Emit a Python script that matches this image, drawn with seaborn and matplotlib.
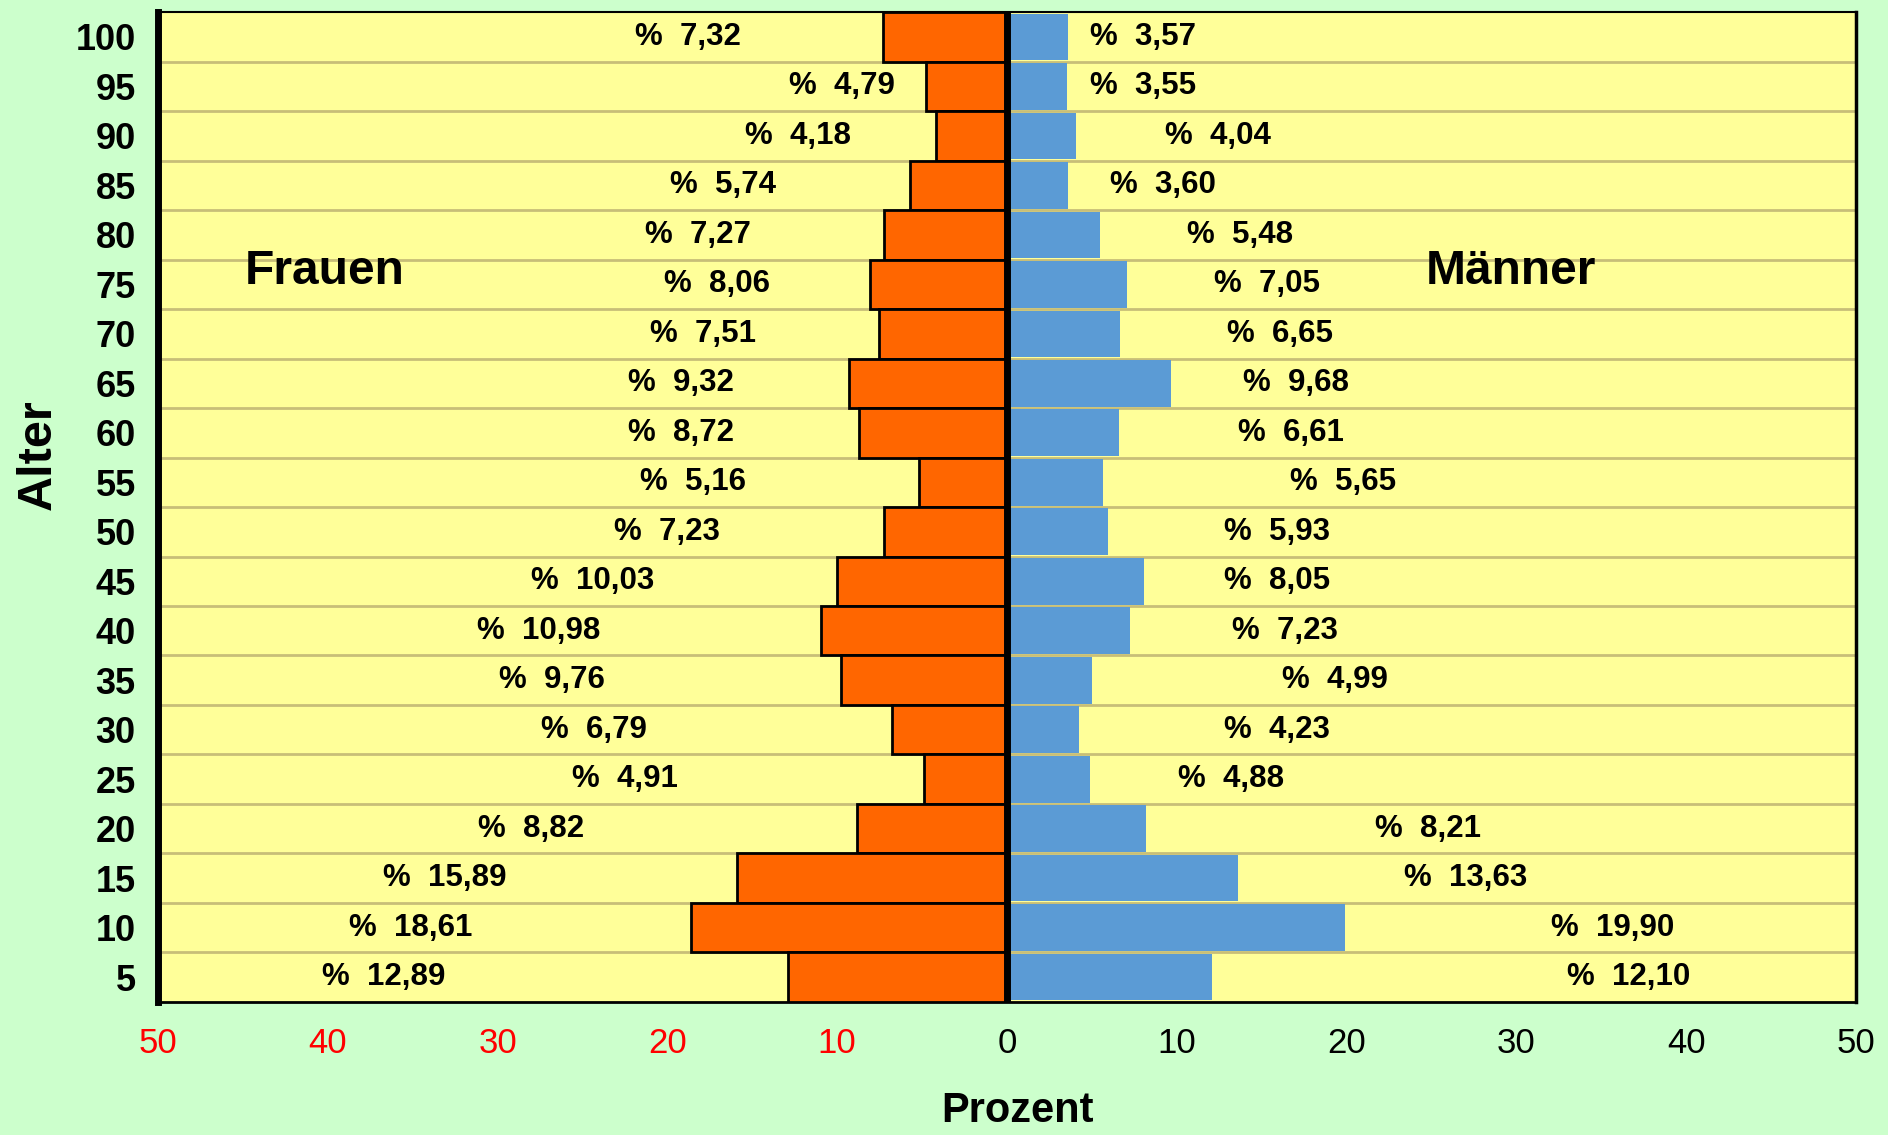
import seaborn as sns
import matplotlib.pyplot as plt
import pandas as pd
import numpy as np

# --- Daten: Altersgruppen (oben -> unten) ---
alter = ['100', '95', '90', '85', '80', '75', '70', '65', '60', '55',
         '50', '45', '40', '35', '30', '25', '20', '15', '10', '5']
frauen = [7.32, 4.79, 4.18, 5.74, 7.27, 8.06, 7.51, 9.32, 8.72, 5.16,
          7.23, 10.03, 10.98, 9.76, 6.79, 4.91, 8.82, 15.89, 18.61, 12.89]
maenner = [3.57, 3.55, 4.04, 3.60, 5.48, 7.05, 6.65, 9.68, 6.61, 5.65,
           5.93, 8.05, 7.23, 4.99, 4.23, 4.88, 8.21, 13.63, 19.90, 12.10]

# Positionen der Beschriftungen (x in Prozent, wie im Original verschoben)
pos_frauen = [-18.8, -9.7, -12.3, -16.7, -18.2, -17.1, -17.9, -19.2, -19.2, -18.5,
              -20.0, -24.4, -27.6, -26.8, -24.3, -22.5, -28.0, -33.1, -35.1, -36.7]
pos_maenner = [8.0, 8.0, 12.4, 9.2, 13.7, 15.3, 16.1, 17.0, 16.7, 19.8,
               15.9, 15.9, 16.4, 19.3, 15.9, 13.2, 24.8, 27.0, 35.7, 36.6]

df = pd.DataFrame({'Alter': alter,
                   'Frauen': -np.array(frauen),
                   'Maenner': maenner})

sns.set_theme(style="white")
plt.rcParams['font.family'] = ['Liberation Sans', 'DejaVu Sans']
plt.rcParams['text.color'] = 'black'
plt.rcParams['xtick.color'] = 'black'
plt.rcParams['ytick.color'] = 'black'

fig = plt.figure(figsize=(18.88, 11.35), dpi=100, facecolor='#CCFFCC')
ax = fig.add_axes([0.0837, 0.1172, 0.8993, 0.8722])
ax.set_facecolor('#FFFF99')

# Balken
sns.barplot(data=df, x='Frauen', y='Alter', order=alter, orient='h',
            color='#FF6600', edgecolor='black', linewidth=2, width=1.0,
            saturation=1, ax=ax, zorder=3)
sns.barplot(data=df, x='Maenner', y='Alter', order=alter, orient='h',
            color='#5B9BD5', edgecolor='none', width=0.94,
            saturation=1, ax=ax, zorder=3)

# Mittellinie
ax.axvline(0, color='black', lw=5, zorder=4)

# Beschriftungen
for i in range(len(alter)):
    ax.text(pos_frauen[i], i, f"%  {frauen[i]:.2f}".replace('.', ','),
            ha='center', va='center', fontsize=22.5, fontweight='bold', zorder=5)
    ax.text(pos_maenner[i], i, f"%  {maenner[i]:.2f}".replace('.', ','),
            ha='center', va='center', fontsize=22.5, fontweight='bold', zorder=5)

ax.text(-40.2, 4.75, 'Frauen', ha='center', va='center', fontsize=34.5, fontweight='bold')
ax.text(29.7, 4.75, 'Männer', ha='center', va='center', fontsize=34.5, fontweight='bold')

# Achsen
ax.set_xlim(-50, 50)
ax.set_ylim(len(alter) - 0.5, -0.5)
ticks = np.arange(-50, 51, 10)
ax.set_xticks(ticks)
ax.set_xticklabels([str(abs(t)) for t in ticks], fontsize=25)
for lab, t in zip(ax.get_xticklabels(), ticks):
    lab.set_color('red' if t < 0 else 'black')
ax.tick_params(axis='x', direction='out', length=8, width=1.2, color='black', pad=10)
ax.tick_params(axis='y', length=0, pad=16)
ax.set_yticks(range(len(alter)))
ax.set_yticklabels(alter, fontsize=26, fontweight='bold')

# Gitterlinien zwischen den Altersgruppen
ax.set_yticks(np.arange(0.5, len(alter) - 1, 1), minor=True)
ax.tick_params(axis='y', which='minor', length=0)
ax.grid(axis='y', which='minor', color='#C8BE78', lw=2, zorder=1)
ax.grid(axis='y', which='major', visible=False)
ax.set_axisbelow(True)

for side, lw in [('left', 5), ('bottom', 2), ('top', 1.5), ('right', 2.5)]:
    ax.spines[side].set_color('black')
    ax.spines[side].set_linewidth(lw)

ax.set_xlabel('')
ax.set_ylabel('')
fig.text(38 / 1888, 1 - 455 / 1135, 'Alter', rotation=90, ha='center', va='center',
         fontsize=35, fontweight='bold')
fig.text(1017 / 1888, 1 - 1111 / 1135, 'Prozent', ha='center', va='center',
         fontsize=30, fontweight='bold')

fig.savefig('out.png', dpi=100, facecolor=fig.get_facecolor())
